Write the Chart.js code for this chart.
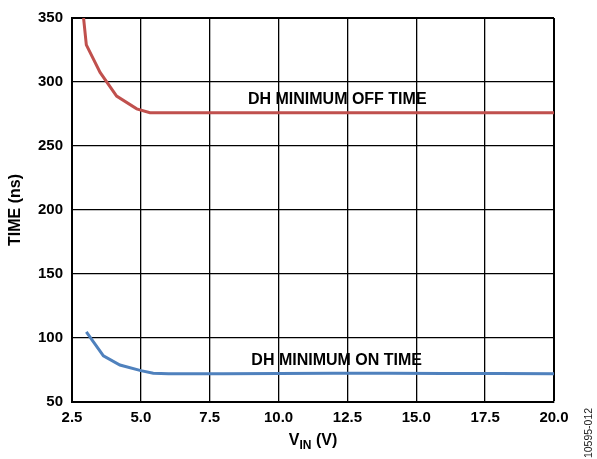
<!DOCTYPE html>
<html>
<head>
<meta charset="utf-8">
<script src="https://cdn.jsdelivr.net/npm/chart.js@4"></script>
<style>
  html, body { margin: 0; padding: 0; background: #fff; }
  #wrap { width: 597px; height: 459px; }
</style>
</head>
<body>
<div id="wrap"><canvas id="timeChart" width="597" height="459"></canvas></div>
<script>
// Values
const offVin = [2.92, 3.02, 3.52, 4.12, 4.85, 5.33, 6.0, 8.0, 10.0, 12.0, 14.0, 16.0, 18.0, 20.0];
const offTime = [350, 329, 307.5, 289, 279, 276, 276, 276, 276, 276, 276, 276, 276, 276];
const onVin = [3.02, 3.64, 4.24, 5.0, 5.45, 6.0, 8.0, 10.0, 12.0, 14.0, 16.0, 18.0, 20.0];
const onTime = [104.7, 86.1, 78.9, 74.5, 72.5, 72, 72, 72.3, 72.5, 72.5, 72.3, 72.2, 72];
const xTicks = [2.5, 5.0, 7.5, 10.0, 12.5, 15.0, 17.5, 20.0];
const yTicks = [50, 100, 150, 200, 250, 300, 350];

const FONT = "'Liberation Sans', Arial, sans-serif";

const toPoints = (xs, ys) => xs.map((x, i) => ({ x: x, y: ys[i] }));

// Labels on the curves, axis titles and the figure number
const textPlugin = {
  id: "textPlugin",
  afterDraw(chart) {
    const { ctx, chartArea, scales } = chart;
    const x = scales.x, y = scales.y;
    ctx.save();
    ctx.fillStyle = "#000";
    ctx.textBaseline = "middle";
    ctx.textAlign = "center";
    ctx.font = "bold 16px " + FONT;
    ctx.fillText("DH MINIMUM OFF TIME", x.getPixelForValue(12.13), y.getPixelForValue(286.5));
    ctx.fillText("DH MINIMUM ON TIME", x.getPixelForValue(12.11), y.getPixelForValue(82));

    // x axis title with subscript
    const cx = (chartArea.left + chartArea.right) / 2;
    const ty = 441;
    ctx.textAlign = "left";
    const w1 = ctx.measureText("V").width;
    ctx.font = "bold 12px " + FONT;
    const w2 = ctx.measureText("IN").width;
    ctx.font = "bold 16px " + FONT;
    const w3 = ctx.measureText(" (V)").width;
    let sx = cx - (w1 + w2 + w3) / 2;
    ctx.fillText("V", sx, ty);
    ctx.font = "bold 12px " + FONT;
    ctx.fillText("IN", sx + w1, ty + 5);
    ctx.font = "bold 16px " + FONT;
    ctx.fillText(" (V)", sx + w1 + w2, ty);

    // y axis title
    ctx.save();
    ctx.translate(16, (chartArea.top + chartArea.bottom) / 2);
    ctx.rotate(-Math.PI / 2);
    ctx.textAlign = "center";
    ctx.fillText("TIME (ns)", 0, 0);
    ctx.restore();

    // figure number
    ctx.save();
    ctx.translate(589, 433);
    ctx.rotate(-Math.PI / 2);
    ctx.textAlign = "center";
    ctx.font = "10.5px " + FONT;
    ctx.fillStyle = "#222";
    ctx.fillText("10595-012", 0, 0);
    ctx.restore();
    ctx.restore();
  },
};

document.addEventListener("DOMContentLoaded", () => {
  const ctx = document.getElementById("timeChart").getContext("2d");

  new Chart(ctx, {
    type: "scatter",
    data: {
      datasets: [
        {
          label: "DH MINIMUM OFF TIME",
          data: toPoints(offVin, offTime),
          showLine: true,
          borderColor: "#c0504d",
          borderWidth: 3,
          pointRadius: 0,
          tension: 0,
        },
        {
          label: "DH MINIMUM ON TIME",
          data: toPoints(onVin, onTime),
          showLine: true,
          borderColor: "#4f81bd",
          borderWidth: 3,
          pointRadius: 0,
          tension: 0,
        },
      ],
    },
    options: {
      responsive: false,
      animation: false,
      layout: { padding: { top: 15, right: 43, left: 0, bottom: 0 } },
      plugins: {
        legend: { display: false },
        tooltip: { enabled: false },
      },
      scales: {
        x: {
          type: "linear",
          min: 2.5,
          max: 20,
          afterBuildTicks: (scale) => {
            scale.ticks = xTicks.map((v) => ({ value: v }));
          },
          afterFit: (scale) => {
            scale.height = 57;
          },
          ticks: {
            color: "#000",
            padding: 7,
            font: { family: FONT, size: 15, weight: "bold" },
            callback: (v) => Number(v).toFixed(1),
            maxRotation: 0,
            autoSkip: false,
          },
          grid: {
            color: "#000",
            lineWidth: (c) => (c.index === xTicks.length - 1 ? 2 : 1.3),
            drawTicks: false,
          },
          border: { color: "#000", width: 2 },
        },
        y: {
          min: 50,
          max: 350,
          afterBuildTicks: (scale) => {
            scale.ticks = yTicks.map((v) => ({ value: v }));
          },
          afterFit: (scale) => {
            scale.width = 72;
          },
          ticks: {
            color: "#000",
            padding: 9,
            font: { family: FONT, size: 15, weight: "bold" },
          },
          grid: {
            color: "#000",
            lineWidth: (c) => (c.index === yTicks.length - 1 ? 2 : 1.3),
            drawTicks: false,
          },
          border: { color: "#000", width: 2 },
        },
      },
    },
    plugins: [textPlugin],
  });
});
</script>
</body>
</html>
